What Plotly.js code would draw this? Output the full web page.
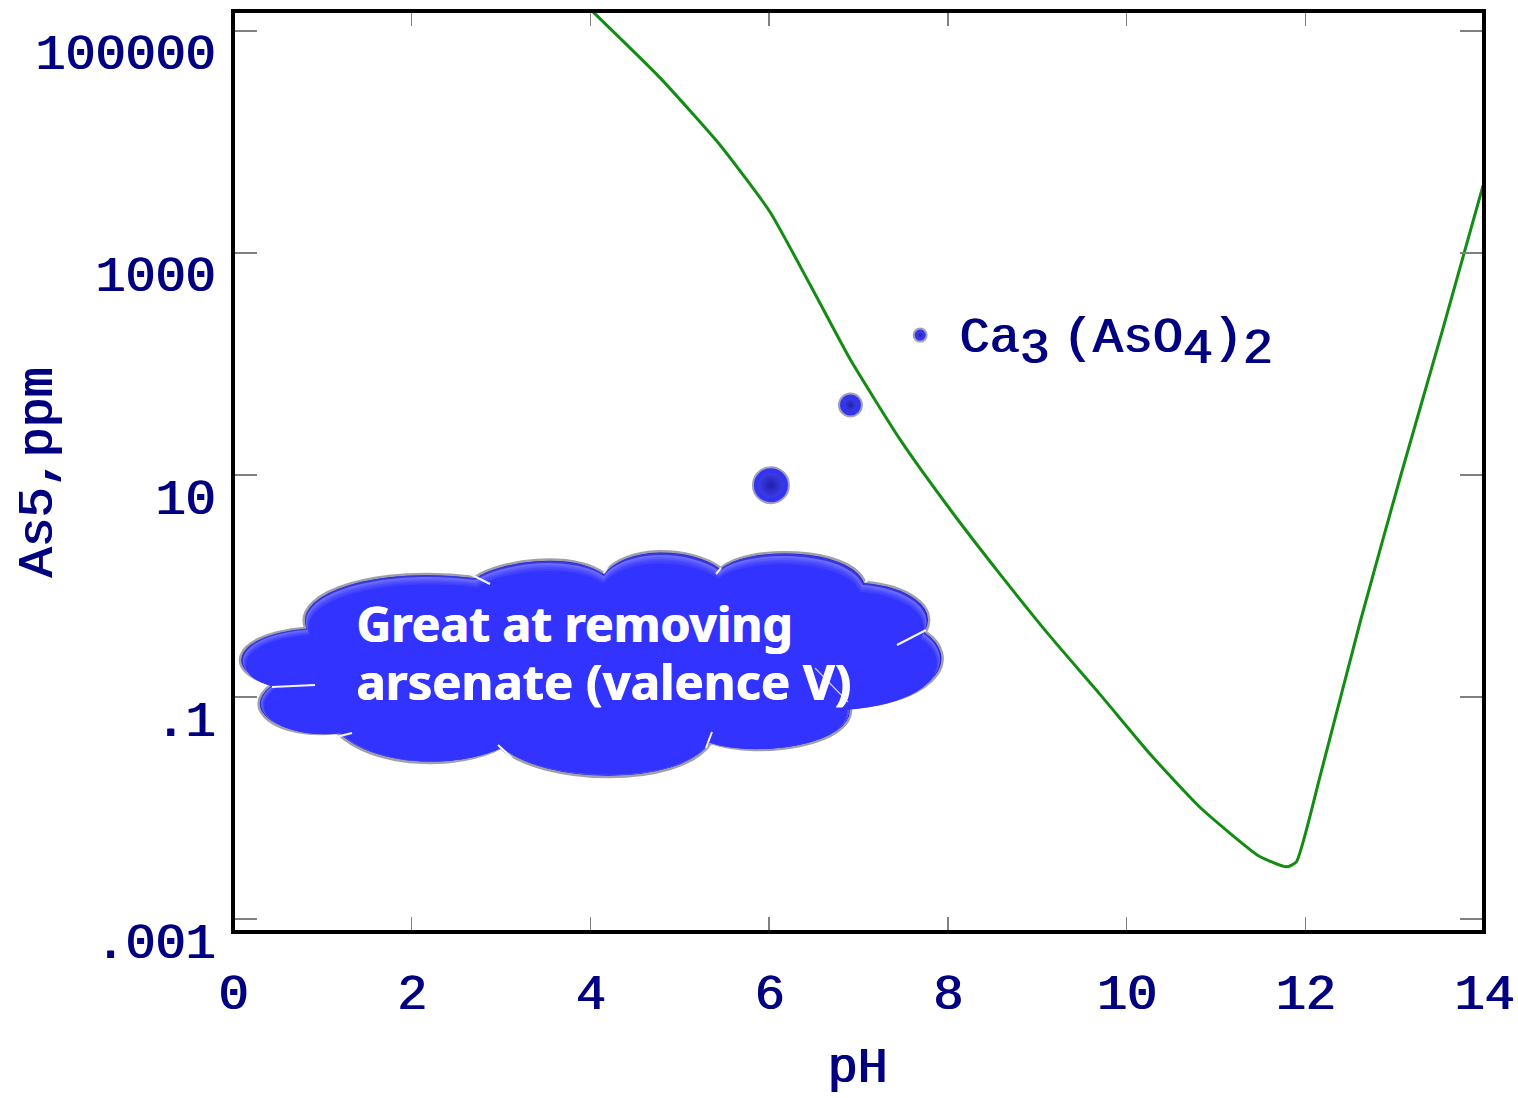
<!DOCTYPE html>
<html><head><meta charset="utf-8">
<script src="https://cdn.plot.ly/plotly-3.0.0.min.js"></script>
<style>html,body{margin:0;padding:0;background:#fff}#c{width:1518px;height:1098px}</style></head>
<body><div id="c"></div>
<script>
var curvePH=[4.02,4.78,5.45,6.01,6.46,6.91,7.47,8.03,8.59,9.15,9.71,10.27,10.83,11.48,11.79,11.9,12.17,12.62,13.07,13.52,13.99];
var curveAs=[151000,37800,9400,2340,515,109,20.6,4.84,1.26,0.348,0.104,0.0302,0.01,0.0037,0.00295,0.00327,0.02,0.494,10,182,4070];
var pointPH=[6.02,6.91,7.69];
var pointAs=[8.1,42.7,182];
var xTicks=[0,2,4,6,8,10,12,14];
var yTicks=[100000,1000,10,0.1,0.001];
var yLabels=['100000','1000','10','.1','.001'];
var navy='#000080', F='"Liberation Mono", monospace', thick='1.4px 0 0 #000080';

// decorative cloud outline, in page pixels: start, then cubic segments
var cloudStart=[305,628];
var cloudLobes=[
 [292,590,380,565,475,577],[500,560,570,550,604,573],[625,545,690,545,721,568],
 [745,545,850,545,865,582],[905,585,940,605,926,632],[960,655,945,700,851,708],
 [855,745,760,760,711,743],[680,790,540,785,501,748],[460,770,375,770,337,733],
 [280,740,235,710,272,684],[225,675,225,635,305,628]];
var cracks=[[272,687,315,685],[470,574,490,584],[897,645,926,630],[336,737,352,733],[498,745,512,758],[706,748,712,732],[604,573,608,566],[721,568,716,574],[865,582,872,578]];
var L=233,W=1251,B=932,H=921;
function px(x){return ((x-L)/W).toFixed(5)} function py(y){return ((B-y)/H).toFixed(5)}
function cloudPath(sx,sy,dy){
  var cx=590,cy=660;
  function X(v){return px(cx+(v-cx)*sx)} function Y(v){return py(cy+(v-cy)*sy+dy)}
  var d='M'+X(cloudStart[0])+','+Y(cloudStart[1]);
  cloudLobes.forEach(function(l){d+=' C'+X(l[0])+','+Y(l[1])+' '+X(l[2])+','+Y(l[3])+' '+X(l[4])+','+Y(l[5]);});
  return d+' Z';
}
function cloudShape(sx,sy,dy,fill,line,lw){
  return {type:'path',xref:'paper',yref:'paper',path:cloudPath(sx,sy,dy),fillcolor:fill,line:{color:line,width:lw},layer:'above'};
}
var none='rgba(0,0,0,0)';
var shapes=[
  {type:'rect',xref:'paper',yref:'paper',x0:0,x1:1,y0:0,y1:1,line:{color:'#000',width:4},fillcolor:none,layer:'above'},
  cloudShape(1,1,0,'#2424c8','#a0a0ac',2.5),
  cloudShape(.994,.985,0,'#3838e0',none,0),
  cloudShape(.992,.975,1,'#6a6aff',none,0),
  cloudShape(.99,.965,2,'#5a5aff',none,0),
  cloudShape(.988,.955,3,'#4a4aff',none,0),
  cloudShape(.985,.945,4,'#3f3fff',none,0),
  cloudShape(.983,.935,5,'#3333ff',none,0)
];
cracks.forEach(function(c){
  shapes.push({type:'line',xref:'paper',yref:'paper',x0:px(c[0]),y0:py(c[1]),x1:px(c[2]),y1:py(c[3]),line:{color:'#f4f4ff',width:2},layer:'above'});
});
shapes.push({type:'line',xref:'paper',yref:'paper',x0:px(815),y0:py(668),x1:px(848),y1:py(702),line:{color:'#c8c8ff',width:1.2},layer:'above'});

var traces=[
 {x:curvePH,y:curveAs,mode:'lines',line:{color:'#128c12',width:3,shape:'spline',smoothing:0.5},hoverinfo:'skip'},
 {x:pointPH,y:pointAs,mode:'markers',marker:{size:[36,23,13],opacity:1,color:'#3333f0',line:{color:'#a0a0b8',width:2}},hoverinfo:'skip'},
 {x:pointPH,y:pointAs,mode:'markers',marker:{size:[25,13,7],opacity:1,color:'#3c3ce6',line:{width:0},gradient:{type:'radial',color:'#1f1fae'}},hoverinfo:'skip'}
];
var axisCommon={showgrid:false,zeroline:false,showline:false,mirror:'allticks',ticks:'inside',tickcolor:'#808080',tickwidth:1.5,automargin:false};
var tf={family:F,size:50,color:navy,shadow:thick};
var layout={
 width:1518,height:1098,showlegend:false,paper_bgcolor:'#fff',plot_bgcolor:'#fff',
 margin:{l:233,r:34,t:11,b:166,pad:0},
 xaxis:Object.assign({},axisCommon,{range:[0,14],tickvals:xTicks,ticktext:xTicks.map(String),ticklen:15,ticklabelstandoff:26,tickfont:tf}),
 yaxis:Object.assign({},axisCommon,{type:'log',range:[-3.117,5.18],tickvals:yTicks,ticktext:yLabels,ticklen:24,ticklabelshift:21,ticklabelstandoff:17,tickfont:tf}),
 shapes:shapes,
 annotations:[
  {xref:'paper',yref:'paper',x:Number(px(857)),y:Number(py(1068)),xanchor:'center',yanchor:'middle',showarrow:false,text:'pH',font:tf},
  {xref:'paper',yref:'paper',x:Number(px(38)),y:Number(py(473)),xanchor:'center',yanchor:'middle',showarrow:false,textangle:-90,text:'As5,ppm',font:tf},
  {xref:'paper',yref:'paper',x:Number(px(354)),y:Number(py(623)),xanchor:'left',yanchor:'middle',showarrow:false,
   text:'<b>Great at removing</b>',font:{family:'"Noto Sans", sans-serif',size:48,color:'#fff',shadow:'1px 0 0 #fff'}},
  {xref:'paper',yref:'paper',x:Number(px(354)),y:Number(py(681)),xanchor:'left',yanchor:'middle',showarrow:false,
   text:'<b>arsenate (valence V)</b>',font:{family:'"Noto Sans", sans-serif',size:49,color:'#fff',shadow:'1px 0 0 #fff'}},
  {xref:'paper',yref:'paper',x:Number(px(957)),y:Number(py(344)),xanchor:'left',yanchor:'middle',showarrow:false,
   text:'Ca<sub><span style="font-size:50px">3</span></sub><span style="font-size:22px"> </span>(AsO<sub><span style="font-size:50px">4</span></sub>)<sub><span style="font-size:50px">2</span></sub>',font:tf}
 ]
};
Plotly.newPlot('c',traces,layout,{staticPlot:true,displayModeBar:false});
</script></body></html>
